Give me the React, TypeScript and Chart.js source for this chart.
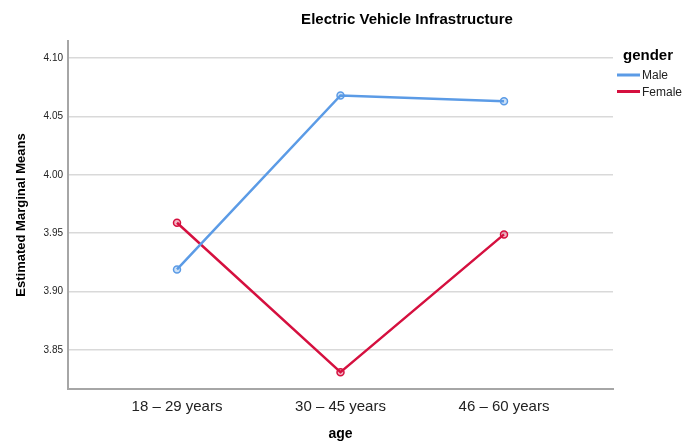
import React, { useEffect, useRef } from "react";
import { Chart, registerables } from "chart.js";

Chart.register(...registerables);

const categories = ["18 – 29 years", "30 – 45 years", "46 – 60 years"];
const maleMeans = [3.919, 4.068, 4.063];
const femaleMeans = [3.959, 3.831, 3.949];
const yTicks = [3.85, 3.9, 3.95, 4.0, 4.05, 4.1];
const seriesLabels = ["Male", "Female"];
const seriesColors = ["#5b9be6", "#d5103f"];
const seriesFills = ["rgba(91,155,230,0.3)", "rgba(213,16,63,0.3)"];

const FONT = "'Liberation Sans', Arial, sans-serif";

const titlePlugin = {
  id: "customTitle",
  afterDraw(chart: any) {
    const ctx = chart.ctx;
    ctx.save();
    ctx.font = `bold 15px ${FONT}`;
    ctx.fillStyle = "#000";
    ctx.textAlign = "center";
    ctx.textBaseline = "middle";
    ctx.fillText("Electric Vehicle Infrastructure", 407, 20);
    ctx.restore();
  },
};

const legendPlugin = {
  id: "customLegend",
  afterDraw(chart: any) {
    const ctx = chart.ctx;
    const x0 = chart.chartArea.right + 10;
    ctx.save();
    ctx.fillStyle = "#000";
    ctx.textBaseline = "middle";
    ctx.textAlign = "left";
    ctx.font = `bold 15px ${FONT}`;
    ctx.fillText("gender", x0, 56);
    chart.data.datasets.forEach((ds: any, i: number) => {
      const y = 75 + i * 16.5;
      ctx.strokeStyle = ds.borderColor;
      ctx.lineWidth = 3;
      ctx.beginPath();
      ctx.moveTo(x0 - 6, y);
      ctx.lineTo(x0 + 17, y);
      ctx.stroke();
      ctx.font = `12px ${FONT}`;
      ctx.fillStyle = "#222";
      ctx.fillText(ds.label, x0 + 19, y + 1);
    });
    ctx.restore();
  },
};

export default function App() {
  const ref = useRef<HTMLCanvasElement>(null);
  useEffect(() => {
    document.body.style.margin = "0";
    const canvas = ref.current!;
    const chart = new Chart(canvas, {
      type: "line",
      data: {
        datasets: [maleMeans, femaleMeans].map((vals, i) => ({
          label: seriesLabels[i],
          data: vals.map((v, j) => ({ x: j, y: v })),
          borderColor: seriesColors[i],
          backgroundColor: seriesFills[i],
          pointBackgroundColor: seriesFills[i],
          pointBorderColor: seriesColors[i],
          pointBorderWidth: 1.5,
          pointRadius: 3.5,
          borderWidth: 2.5,
          tension: 0,
        })),
      },
      options: {
        responsive: false,
        animation: false,
        layout: { padding: { top: 41, right: 70, left: 0, bottom: 0 } },
        plugins: { legend: { display: false }, title: { display: false }, tooltip: { enabled: false } },
        scales: {
          x: {
            type: "linear",
            min: -2 / 3,
            max: 8 / 3,
            afterBuildTicks: (s: any) => {
              s.ticks = categories.map((_, i) => ({ value: i }));
            },
            afterFit: (s: any) => {
              s.height = 54;
            },
            ticks: {
              callback: (v: any) => categories[v] ?? "",
              font: { family: FONT, size: 15 },
              color: "#222",
              padding: 9,
              maxRotation: 0,
              autoSkip: false,
            },
            grid: { display: false, drawTicks: false },
            border: { display: true, color: "#a6a6a6", width: 2 },
            title: {
              display: true,
              text: "age",
              font: { family: FONT, size: 14, weight: "bold" },
              color: "#000",
              padding: { top: 0, bottom: 0 },
            },
          },
          y: {
            type: "linear",
            min: 3.8166,
            max: 4.1146,
            afterBuildTicks: (s: any) => {
              s.ticks = yTicks.map((v) => ({ value: v }));
            },
            afterFit: (s: any) => {
              s.width = 68;
            },
            ticks: {
              callback: (v: any) => Number(v).toFixed(2),
              font: { family: FONT, size: 10 },
              color: "#222",
              padding: 5,
            },
            grid: { color: "#d9d9d9", lineWidth: 1.5, drawTicks: false },
            border: { display: true, color: "#a6a6a6", width: 2 },
            title: {
              display: true,
              text: "Estimated Marginal Means",
              font: { family: FONT, size: 13, weight: "bold" },
              color: "#000",
              padding: { top: 14, bottom: 0 },
            },
          },
        },
      },
      plugins: [titlePlugin, legendPlugin],
    });
    return () => chart.destroy();
  }, []);
  return (
    <div style={{ width: 683, height: 443 }}>
      <canvas ref={ref} width={683} height={443} style={{ display: "block" }} />
    </div>
  );
}
